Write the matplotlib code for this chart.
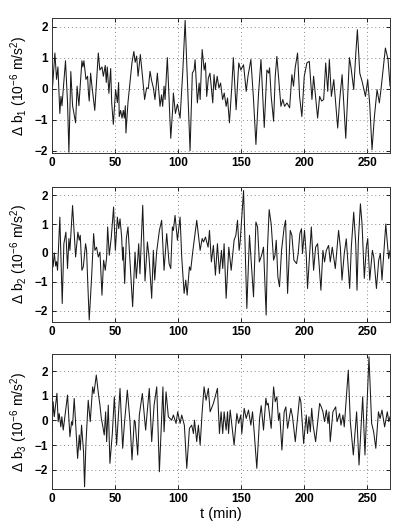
import matplotlib
matplotlib.use('Agg')
import matplotlib.pyplot as plt

plt.rcParams['font.family'] = ['Liberation Sans', 'DejaVu Sans']
plt.rcParams['mathtext.fontset'] = 'custom'
plt.rcParams['mathtext.rm'] = 'Liberation Sans'
plt.rcParams['mathtext.it'] = 'Liberation Sans:italic'

# time (min) and value (10^-6 m/s^2)
t1 = [0, 2.4, 3.7, 4.8, 6.3, 7.2, 8.0, 10.8, 12.4, 13.5, 15.0, 16.4, 18.8, 20.0, 21.4,
      23.8, 24.6, 25.4, 27.0, 28.3, 29.0, 29.6, 30.7, 31.7, 34.0, 36.8, 38.0, 39.7, 40.8,
      42.3, 43.1, 43.9, 45.2, 46.6, 47.4, 48.7, 50.5, 51.9, 52.9, 53.4, 54.5, 55.6, 56.6,
      57.4, 58.2, 58.7, 60.3, 61.9, 63.5, 65.0, 66.0, 67.2, 68.3, 70.1, 71.8, 73.5, 75.1,
      76.4, 77.8, 79.1, 80.4, 81.7, 83.6, 85.7, 86.9, 87.8, 88.9, 89.7, 91.5, 94.2, 95.7,
      96.3, 97.9, 99.5, 101.6, 103.8, 105.6, 109.5, 111.3, 112.7, 113.5, 115.3, 116.7,
      117.5, 119.1, 120.7, 121.7, 122.7, 124.0, 125.3, 127.5, 128.5, 129.6, 131.0, 132.4,
      133.7, 135.3, 136.6, 138.1, 139.2, 140.7, 142.6, 143.8, 146.0, 148.1, 149.7, 151.9,
      154.0, 155.4, 157.7, 159.8, 161.7, 163.8, 165.7, 168.3, 170.4, 171.8, 172.5, 173.8,
      175.7, 177.0, 178.3, 180.2, 181.5, 183.0, 184.4, 186.3, 188.4, 190.2, 191.5, 192.8,
      194.7, 196.3, 198.1, 200.0, 202.1, 204.0, 206.1, 207.4, 210.6, 212.2, 213.8, 215.4,
      217.0, 218.6, 219.9, 221.5, 223.4, 226.5, 228.1, 230.0, 232.9, 234.4, 235.8, 237.1,
      239.2, 240.8, 242.1, 244.0, 245.8, 248.5, 250.3, 251.9, 253.7, 255.6, 257.7, 259.5,
      260.8, 264.3, 266.4, 268.0]
b1 = [-0.25, 1.15, 0.3, 0.7, -0.8, -0.25, -0.55, 0.9, -0.45, -2.05, 0.55, -0.55, -1.1, 0.08, -0.55,
      0.9, 0.7, 0.9, 0.3, 0.4, -0.15, -0.4, 0.5, 0.1, -0.7, 1.15, 0.6, 0.7, 0.4,
      0.75, 0.2, 0.7, -0.15, 0.65, -0.45, -1.15, -0.03, -0.45, 0.2, -0.9, -0.7, -0.95, -0.7,
      -0.95, -0.55, -1.43, -0.45, 0.2, 0.85, 1.2, 0.85, 1.05, 0.4, 1.1, 0.4, -0.35, 0.03,
      0.0, 0.56, 0.25, 0.03, -0.35, 0.5, -0.57, -0.2, -0.57, 0.08, -0.35, 1.0, -1.6, -0.68,
      -0.14, -0.8, -0.5, -0.95, 0.6, 2.2, -2.0, 0.5, 0.6, 0.93, -0.46, 0.18,
      -0.35, 1.26, 0.6, 0.83, -0.25, 0.34, 0.5, -0.46, 0.45, -0.03, 0.4, 0.02,
      0.18, -0.35, -0.14, -0.57, -0.3, -1.1, 0.08, 1.0, -0.68, 0.83, 0.6, 0.77,
      -0.09, 0.4, 0.94, -0.35, -1.8, -0.14, 0.94, -1.25, 0.6, 0.5, 0.67, -0.25,
      -1.05, 0.4, 1.04, 0.08, -0.57, -0.35, -0.57, -0.46, -0.62, 0.45, 0.08, 0.67,
      1.15, -0.25, -0.9, 0.4, 0.83, 0.88, -0.35, 0.4, -0.95, -0.25, -0.4, -0.35,
      0.83, -0.09, 0.94, -0.25, 0.29, -1.27, -0.35, 0.45, -1.6, -0.25, 1.0, 0.67,
      -0.03, 1.1, 1.9, 0.5, 0.24, -0.25, 0.29, -0.52, -1.97, -0.9, -0.03, -0.46,
      -0.03, 1.31, 0.94, 0.08]

t2 = [0, 1.0, 1.9, 3.0, 3.7, 4.5, 5.3, 6.3, 8.2, 9.5, 11.1, 12.4, 13.5, 14.3, 16.4, 18.8,
      20.6, 21.7, 22.5, 23.8, 24.9, 26.7, 27.5, 28.3, 29.6, 31.5, 33.1, 34.1, 35.4, 36.8,
      38.1, 39.7, 41.0, 42.3, 43.4, 44.2, 45.5, 47.1, 48.9, 50.3, 51.9, 53.0, 54.0, 55.3,
      56.1, 56.6, 57.7, 59.0, 60.3, 64.0, 65.9, 66.9, 68.0, 68.8, 69.8, 72.0, 73.8, 75.7,
      77.0, 79.1, 80.4, 81.5, 83.0, 85.2, 87.0, 88.9, 91.0, 92.9, 94.2, 95.5, 96.3, 97.6,
      99.5, 101.6, 102.9, 104.8, 106.1, 107.2, 109.0, 110.0, 111.6, 114.8, 117.5, 119.1,
      120.2, 121.7, 123.8, 124.9, 126.4, 128.0, 129.6, 131.2, 132.8, 134.4, 135.4, 136.5,
      138.1, 140.2, 142.1, 144.4, 145.8, 147.1, 148.4, 149.2, 151.9, 154.5, 156.6, 159.8,
      161.7, 163.0, 164.4, 166.2, 167.7, 169.8, 170.9, 172.2, 173.8, 175.7, 176.8, 177.8,
      179.1, 180.4, 182.0, 184.1, 185.2, 186.8, 188.9, 190.2, 191.8, 193.9, 195.2, 196.5,
      197.8, 198.6, 200.2, 201.6, 202.6, 205.6, 207.4, 209.0, 210.6, 213.2, 214.8, 216.1,
      217.5, 219.3, 220.6, 222.2, 224.6, 227.2, 228.6, 229.9, 231.7, 233.3, 236.0, 237.3,
      239.2, 240.8, 241.8, 242.9, 244.5, 245.8, 247.6, 249.2, 250.3, 251.9, 254.0, 255.1,
      257.2, 259.0, 260.3, 261.6, 264.6, 266.9, 268.0]
b2 = [0.03, -0.48, 0.0, -0.45, -0.3, -0.6, 0.2, 1.24, -1.75, 0.32, 0.72, -0.54, 0.5, 0.09, 1.64, -0.14,
      0.72, 0.44, 0.61, -0.6, -0.48, 0.32, 0.09, -0.88, -2.32, -0.83, 0.67, 0.09, 0.2, -0.14,
      0.03, -1.46, -0.25, -0.6, -0.14, 0.9, -0.08, 0.55, 1.59, 0.09, 1.24, 0.84, 1.18, 0.55,
      -0.25, 0.2, -1.06, 0.5, 0.9, -1.86, 0.03, -0.88, -0.25, 0.32, -0.72, 1.65, -0.97, 0.38,
      -0.14, -1.57, 0.09, -0.94, 0.03, 0.78, 1.13, -0.6, 0.67, -0.37, -0.54, 0.9, 0.78, 1.3,
      0.44, 1.24, -0.14, -1.4, -0.94, -1.46, -0.48, -0.6, 0.03, 1.13, 0.09, 0.5,
      0.38, 0.55, 0.2, 0.78, -0.31, 0.26, -0.77, 0.32, -0.71, 0.09, -0.54, 0.32,
      -1.57, 0.2, -0.6, 0.44, 0.61, 1.13, 0.09, 0.38, 2.16, -1.92, 0.61, -1.52,
      1.07, 0.9, -0.31, -0.08, 0.2, -2.15, 0.2, 1.5, 1.0, -0.25, -0.08, 0.44,
      -0.83, -1.17, 0.09, 0.9, 1.13, -1.4, 0.78, 0.61, -0.25, -0.37, -0.02, 0.67,
      0.84, -0.02, 0.78, -0.08, -1.23, 0.9, -0.6, 0.2, 0.32, -1.29, 0.09, -0.31,
      0.09, 0.26, -0.31, 0.2, -0.54, 0.78, 0.2, -0.94, -0.02, 0.49, -1.23, 0.2,
      1.41, 0.32, -1.29, 0.44, 1.7, 1.0, -0.88, 0.2, 0.5, -0.94, 0.09, -0.14,
      -1.23, -0.25, -0.02, -0.94, 1.0, -0.2, 0.09]

t3 = [0, 1.0, 1.9, 4.0, 5.0, 5.8, 7.1, 7.9, 9.0, 10.6, 12.4, 14.3, 15.6, 16.4, 17.7, 20.4,
      21.7, 22.5, 23.5, 25.1, 25.9, 27.0, 28.8, 30.4, 32.3, 33.3, 35.2, 37.0, 38.1, 39.2,
      40.2, 41.5, 42.6, 43.4, 44.7, 46.0, 47.9, 49.5, 51.3, 54.0, 56.1, 57.4, 59.8, 61.9,
      63.5, 65.3, 66.0, 68.0, 69.3, 71.7, 73.0, 74.3, 77.2, 79.1, 81.0, 83.1, 85.2, 88.0,
      88.9, 90.5, 92.3, 94.9, 96.3, 98.4, 99.7, 101.6, 102.9, 105.0, 106.9, 109.0, 110.8,
      112.2, 113.0, 114.8, 116.1, 117.5, 119.1, 120.6, 122.2, 124.0, 125.4, 128.0, 131.2,
      132.8, 134.1, 135.4, 136.5, 138.1, 139.2, 140.0, 141.3, 142.6, 144.4, 146.6, 148.0,
      149.7, 150.5, 152.4, 154.0, 155.8, 157.7, 159.0, 160.3, 162.4, 164.6, 165.9, 167.7,
      169.6, 170.5, 171.4, 173.8, 175.7, 177.0, 178.3, 179.6, 180.5, 182.3, 184.1, 185.4,
      186.8, 189.4, 190.7, 192.9, 196.3, 197.3, 199.5, 201.6, 202.6, 203.7, 204.8, 205.9,
      207.0, 209.0, 212.2, 213.5, 214.8, 216.1, 217.5, 218.8, 219.6, 220.6, 222.7, 224.9,
      226.0, 228.0, 229.1, 230.7, 231.7, 234.9, 236.5, 238.9, 241.5, 243.4, 246.3, 248.1,
      250.0, 251.3, 253.4, 255.0, 256.7, 258.8, 260.1, 261.6, 263.7, 265.8, 267.0, 268.0]
b3 = [-0.4, 0.76, 0.15, 1.1, -0.05, 0.28, -0.26, 0.15, -0.39, 0.28, 1.03, -0.66, -0.05, -0.19, 0.89, -1.54,
      -0.59, -1.2, -0.19, -1.27, -2.69, -0.93, 0.82, -0.05, 1.36, 1.09, 1.84, 1.03, 0.62, 0.08,
      -0.19, -0.59, 0.35, -0.86, 0.62, -1.74, -0.53, 0.96, -1.0, 1.3, -1.13, -0.19, 1.23, -0.05,
      -1.6, 0.01, -0.05, -1.4, 0.22, 1.09, 0.35, -0.39, 1.3, -0.86, 0.62, 1.36, -2.08, 1.36,
      -0.46, 1.16, 0.15, 0.01, 0.22, -0.12, 0.35, -0.12, 0.22, -0.2, -1.94, -0.32, -0.19,
      -0.53, 0.01, -0.86, -0.19, -1.0, 0.35, 1.36, 0.82, 1.3, 0.35, 0.69, 1.3,
      -0.53, 0.35, -0.53, 0.35, -0.39, 0.35, -0.53, 0.42, -0.19, -1.0, 0.28, -0.12,
      0.22, -0.53, 0.49, 0.08, 0.42, -0.19, 0.35, -0.46, -1.94, 0.08, 0.6, -0.39,
      0.9, 0.62, 0.7, -0.32, 1.36, 0.76, 0.96, 0.01, 0.3, -1.2, 0.35, 0.55,
      -0.32, 0.49, 0.15, -0.86, 0.96, 0.76, -0.93, 0.22, -0.53, 0.15, -0.46, 0.49,
      -0.19, -0.86, 0.69, 0.55, 0.35, -0.05, 0.42, -0.12, 0.35, -0.86, 0.35, 0.55,
      -0.05, 0.28, -0.19, 0.22, -0.26, 2.04, -0.05, -1.4, 0.35, -1.81, 0.96, -1.4,
      1.03, 2.58, -0.12, -0.46, -1.13, 0.35, 0.08, 0.42, -0.26, 0.35, -0.05, 0.15]

xticks = [0, 50, 100, 150, 200, 250]
yticks = [-2, -1, 0, 1, 2]
ylabels = [r'$\mathregular{\Delta\ b_1\ (10^{-6}\ m/s^2)}$',
           r'$\mathregular{\Delta\ b_2\ (10^{-6}\ m/s^2)}$',
           r'$\mathregular{\Delta\ b_3\ (10^{-6}\ m/s^2)}$']

fig = plt.figure(figsize=(3.96, 5.21), dpi=100)
boxes = [[0.131, 0.706, 0.854, 0.259],
         [0.131, 0.3825, 0.854, 0.259],
         [0.131, 0.0614, 0.854, 0.2585]]
ylims = [(-2.08, 2.27), (-2.38, 2.29), (-2.78, 2.68)]
series = [(t1, b1), (t2, b2), (t3, b3)]

for i in range(3):
    ax = fig.add_axes(boxes[i])
    t, b = series[i]
    ax.plot(t, b, color='#1a1a1a', lw=0.75)
    ax.set_xlim(0, 268)
    ax.set_ylim(*ylims[i])
    ax.set_xticks(xticks)
    ax.set_yticks(yticks)
    ax.grid(True, linestyle=(0, (1, 3)), color='#888888', lw=0.7)
    ax.tick_params(direction='in', length=3, width=0.6, labelsize=8.5, top=True, right=True, pad=3)
    for lab in ax.get_xticklabels() + ax.get_yticklabels():
        lab.set_fontweight('bold')
    for s in ax.spines.values():
        s.set_linewidth(0.7)
        s.set_color('#333333')
    ax.set_ylabel(ylabels[i], fontsize=10, labelpad=3)

ax.set_xlabel('t (min)', fontsize=10.5, labelpad=1)

fig.savefig('out.png', dpi=100)
